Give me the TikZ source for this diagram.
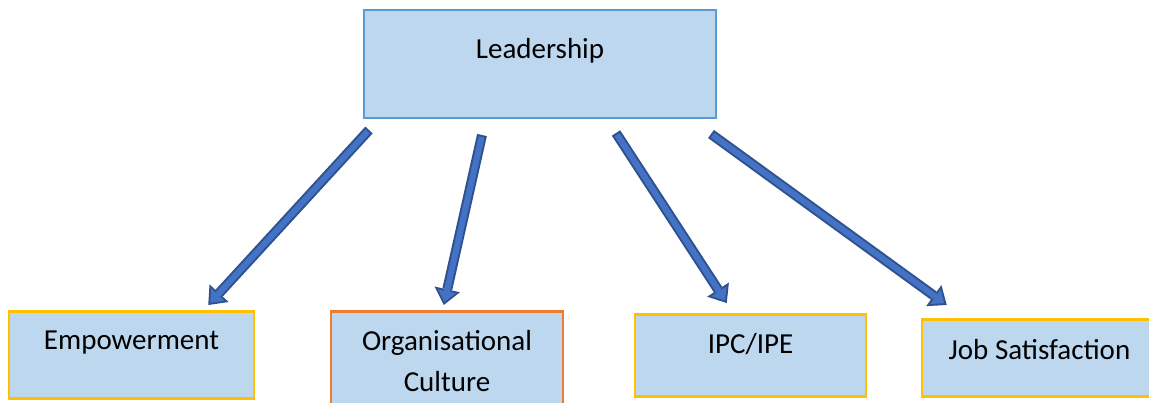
\documentclass[tikz,border=0pt]{standalone}
\usepackage{fontspec}
\setmainfont{Carlito}
\usetikzlibrary{arrows.meta,calc}
\definecolor{BoxFill}{RGB}{189,215,238}
\definecolor{LeadEdge}{RGB}{91,155,213}
\definecolor{GoldEdge}{RGB}{255,192,0}
\definecolor{OrangeEdge}{RGB}{237,125,49}
\definecolor{ArrowFill}{RGB}{68,114,196}
\definecolor{ArrowEdge}{RGB}{47,82,143}

\begin{document}
\begin{tikzpicture}[every node/.style={font=\fontsize{16.5}{23.3}\selectfont, align=center, anchor=north, inner sep=0pt, fill=BoxFill, line width=0.05cm},
  fatarrow/.style={line width=0.2cm, draw=ArrowEdge, -{Triangle[width=0.52cm, length=0.32cm, line width=0pt]},
    postaction={draw=ArrowFill, line width=0.12cm, shorten <=0.04cm, shorten >=0.065cm, -{Triangle[width=0.36cm, length=0.215cm, line width=0pt]}}}]
  \clip (0,0) rectangle (22.98,8.04);
  \node[draw=LeadEdge, line width=0.04cm, minimum width=7.04cm, text height=0.96cm, text depth=1.20cm] (lead) at (10.80,7.86) {Leadership};
  \node[draw=GoldEdge, minimum width=4.90cm, text height=0.76cm, text depth=0.98cm] (emp) at (2.63,1.84) {Empowerment};
  \node[draw=OrangeEdge, minimum width=4.64cm, text width=4.4cm, text height=0.78cm, text depth=1.40cm] (org) at (8.94,1.84) {Organisational\\Culture};
  \node[draw=GoldEdge, minimum width=4.62cm, text height=0.78cm, text depth=0.86cm] (ipc) at (15.01,1.78) {IPC/IPE};
  \node[draw=GoldEdge, minimum width=4.70cm, text height=0.80cm, text depth=0.74cm] (job) at (20.79,1.68) {Job Satisfaction};
  \draw[fatarrow] ([shift={(0.12,-0.22)}]lead.south west) -- ([shift={(-0.94,0.10)}]emp.north east);
  \draw[fatarrow] ([shift={(2.38,-0.32)}]lead.south west) -- ([shift={(2.28,0.10)}]org.north west);
  \draw[fatarrow] ([shift={(-2.02,-0.28)}]lead.south east) -- ([shift={(1.86,0.20)}]ipc.north west);
  \draw[fatarrow] ([shift={(-0.12,-0.30)}]lead.south east) -- ([shift={(0.52,0.26)}]job.north west);
\end{tikzpicture}
\end{document}
